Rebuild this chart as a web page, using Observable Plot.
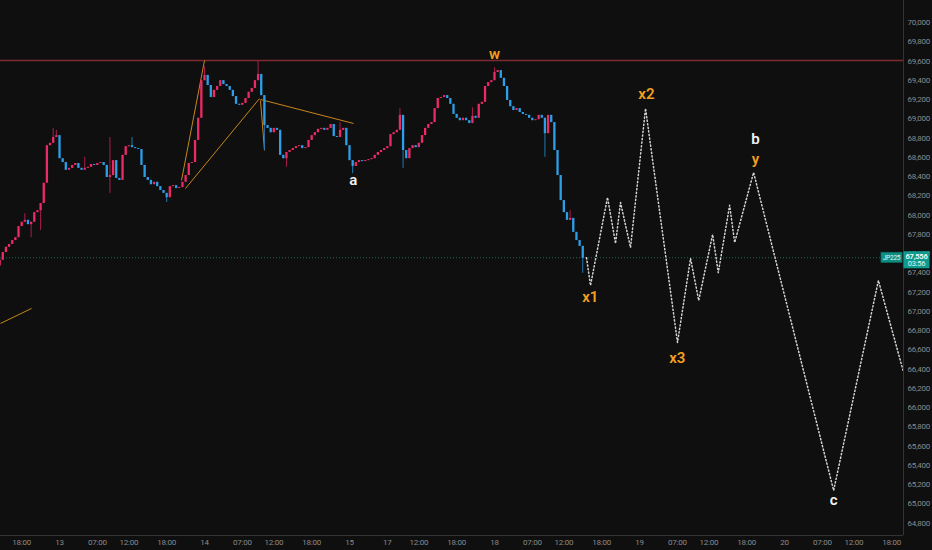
<!DOCTYPE html>
<html>
<head>
<meta charset="utf-8">
<script src="https://cdn.jsdelivr.net/npm/d3@7"></script>
<script src="https://cdn.jsdelivr.net/npm/@observablehq/plot@0.6"></script>
<style>
  html, body { margin: 0; padding: 0; background: #0f0f0f; }
  #chart svg { display: block; }
  #chart svg g[aria-label="y-axis tick label"] text,
  #chart svg g[aria-label="x-axis tick label"] text { letter-spacing: -0.25px; }
</style>
</head>
<body>
<div id="chart"></div>
<script>
// ---- DATA ----
// x unit: trading hours since day 13 00:00 (market closed one hour daily, weekend gap)
const xTickPos    = [-6, 0, 6, 11, 17, 23, 29, 34, 40, 46, 52, 57, 63, 69, 75, 80, 86, 92, 98, 103, 109, 115, 121, 126, 132];
const xTickLabels = ["18:00","13","07:00","12:00","18:00","14","07:00","12:00","18:00","15","17","12:00","18:00","18","07:00","12:00","18:00","19","07:00","12:00","18:00","20","07:00","12:00","18:00"];
const yTicks = d3.range(64800, 70001, 200);

// 30-minute candles of JP225, first bar starts at hour -9.5
const firstBarHour = -9.5;
const barHours = 0.5;
const firstOpen = 67470;
const closes = [
  67530, 67610, 67665, 67695, 67735, 67765, 67880, 67925, 67945, 67900,
  67925, 68025, 68045, 68120, 68330, 68720, 68745, 68805, 68825, 68585,
  68545, 68465, 68485, 68515, 68535, 68485, 68465, 68485, 68495, 68525,
  68515, 68535, 68545, 68515, 68390, 68410, 68565, 68380, 68360, 68620,
  68710, 68720, 68700, 68690, 68680, 68515, 68390, 68360, 68315, 68340,
  68295, 68255, 68225, 68180, 68295, 68305, 68275, 68285, 68340, 68410,
  68535, 68545, 68775, 69005, 69395, 69450, 69345, 69220, 69295, 69335,
  69395, 69355, 69335, 69295, 69230, 69150, 69140, 69160, 69210, 69275,
  69315, 69395, 69460, 69240, 68930, 68900, 68855, 68900, 68880, 68620,
  68585, 68650, 68670, 68690, 68710, 68720, 68690, 68700, 68775, 68825,
  68855, 68890, 68900, 68880, 68900, 68940, 68815, 68805, 68880, 68900,
  68720, 68565, 68505, 68545, 68565, 68555, 68565, 68575, 68585, 68620,
  68650, 68670, 68690, 68710, 68835, 68855, 68880, 69035, 68670, 68585,
  68690, 68720, 68700, 68745, 68825, 68900, 68940, 68960, 69105, 69210,
  69220, 69240, 69210, 69150, 69045, 69005, 68980, 69005, 68980, 68950,
  69025, 69005, 69150, 69170, 69335, 69375, 69395, 69480, 69500, 69420,
  69335, 69190, 69125, 69085, 69105, 69065, 69045, 69035, 69005, 68980,
  68990, 69035, 69005, 68845, 69035, 68960, 68670, 68410, 68150, 68025,
  67945, 67965, 67820, 67735, 67675, 67550, 67556
];
// long wicks (bar index, high, low)
const wickIndex = [8, 10, 13, 17, 18, 27, 35, 42, 53, 65, 82, 84, 91, 108, 112, 127, 128, 150, 157, 173, 181, 185];
const wickHigh  = [68015, null, null, 68900, 68880, 68600, 68805, 68805, null, 69540, 69605, null, null, 68960, null, 69105, null, 69115, 69530, null, 68045, null];
const wickLow   = [null, 67765, 67840, null, null, null, 68225, null, 68130, null, null, 68670, 68495, null, 68430, null, 68485, null, null, 68600, null, 67395];

const resistance = 69605;
const lastPrice = 67556;
const symbol = "JP225";
const countdown = "03:56";

// hand-drawn orange trend lines
const trendH1 = [19.35, 19.99, 31.88, 31.88, -9.36];
const trendP1 = [68359, 68276, 69200, 69190, 66874];
const trendH2 = [23.0, 31.73, 46.64, 32.52, -4.44];
const trendP2 = [69605, 69210, 68951, 68670, 67030];

// dotted projection path
const projH     = [83.6, 84.23, 86.93, 88.2, 88.99, 90.58, 92.96, 98.03, 100.1, 101.4, 103.6, 104.5, 106.3, 107.1, 110.1, 122.8, 129.9, 133.9];
const projPrice = [67556, 67269, 68183, 67705, 68130, 67663, 69107, 66677, 67549, 67113, 67798, 67402, 68101, 67715, 68442, 65140, 67320, 66365];

// wave labels
const labelText  = ["w", "a", "x1", "x2", "x3", "b", "y", "c"];
const labelH     = [69.0, 46.6, 84.2, 93.1, 98.0, 110.4, 110.4, 122.8];
const labelPrice = [69667, 68359, 67144, 69252, 66511, 68790, 68585, 65036];
const labelKind  = ["orange", "white", "orange", "orange", "orange", "white", "orange", "white"];

// ---- build tables ----
const candles = closes.map((c, i) => {
  const o = i === 0 ? firstOpen : closes[i - 1];
  let hi = Math.max(o, c), lo = Math.min(o, c);
  const k = wickIndex.indexOf(i);
  if (k >= 0) {
    if (wickHigh[k] != null) hi = Math.max(hi, wickHigh[k]);
    if (wickLow[k] != null) lo = Math.min(lo, wickLow[k]);
  }
  return {t: firstBarHour + barHours * i, open: o, close: c, high: hi, low: lo, up: c >= o};
});
const trends = trendH1.map((h, i) => ({x1: h, y1: trendP1[i], x2: trendH2[i], y2: trendP2[i]}));
const proj = projH.map((h, i) => ({x: h, y: projPrice[i]}));
const labels = labelText.map((t, i) => ({x: labelH[i], y: labelPrice[i], text: t, kind: labelKind[i]}));
const tickMap = new Map(xTickPos.map((p, i) => [p, xTickLabels[i]]));

const UP = "#ec2a66", DOWN = "#2c9fe8";
const UPW = "#a81d4c", DOWNW = "#2178b5";
const xDomain = [-9.36, 133.88];
const yDomain = [64672, 70228];
const axisFont = "Roboto, 'DejaVu Sans', sans-serif";

const plot = Plot.plot({
  width: 932,
  height: 550,
  marginLeft: 0,
  marginRight: 29,
  marginTop: 0,
  marginBottom: 15,
  x: {domain: xDomain, axis: null},
  y: {domain: yDomain, axis: null},
  style: {background: "#0f0f0f", color: "#8a8a8a"},
  marks: [
    Plot.ruleY([lastPrice], {stroke: "#1e6b5e", strokeWidth: 1, strokeDasharray: "1 2"}),
    Plot.ruleY([resistance], {stroke: "#7d2b31", strokeWidth: 1.5}),
    Plot.link(trends, {x1: "x1", y1: "y1", x2: "x2", y2: "y2", stroke: "#c8861c", strokeWidth: 1, clip: true}),
    Plot.ruleX(candles, {x: "t", y1: "low", y2: "high", stroke: d => d.up ? UPW : DOWNW, strokeWidth: 1}),
    Plot.ruleX(candles, {x: "t", y1: "open", y2: "close", stroke: d => d.up ? UP : DOWN, strokeWidth: 2.3}),
    Plot.line(proj, {x: "x", y: "y", stroke: "#d4d4d4", strokeWidth: 1.5, strokeDasharray: "1.2 2.4", clip: true}),
    Plot.text(labels, {x: "x", y: "y", text: "text", fill: d => d.kind === "orange" ? "#f2a01e" : "#f2f2f2",
      fontSize: 15, fontWeight: 600, fontFamily: "Roboto, sans-serif"}),
    Plot.ruleX([xDomain[1]], {stroke: "#333333", strokeWidth: 1}),
    Plot.ruleY([yDomain[0]], {stroke: "#333333", strokeWidth: 1}),
    Plot.axisY(yTicks, {anchor: "right", tickSize: 0, tickPadding: 4, tickFormat: d3.format(","),
      fill: "#8a8a8a", fontSize: 8, fontFamily: axisFont}),
    Plot.axisX(xTickPos, {anchor: "bottom", tickSize: 0, tickPadding: 4, tickFormat: d => tickMap.get(d),
      fill: "#8a8a8a", fontSize: 8, fontFamily: axisFont})
  ]
});

// last-price badge on the right axis
const svg = d3.select(plot);
const py = plot.scale("y").apply(lastPrice);
const px = plot.scale("x").apply(xDomain[1]);
const g = svg.append("g").attr("font-family", axisFont);
g.append("rect").attr("x", px - 22).attr("y", py - 5).attr("width", 21).attr("height", 10)
  .attr("fill", "#0e8f84").attr("stroke", "#0b6f66").attr("stroke-width", 0.8);
g.append("text").attr("x", px - 11.5).attr("y", py).attr("dy", "0.35em").attr("text-anchor", "middle")
  .attr("font-size", 6.5).attr("letter-spacing", "-0.2px").attr("fill", "#e8f6f4").text(symbol);
g.append("rect").attr("x", px + 0.5).attr("y", py - 6).attr("width", 26).attr("height", 17)
  .attr("fill", "#0e9a8e");
g.append("text").attr("x", px + 13.5).attr("y", py - 0.8).attr("dy", "0.35em").attr("text-anchor", "middle")
  .attr("font-size", 7.5).attr("font-weight", 600).attr("letter-spacing", "-0.2px").attr("fill", "#ffffff")
  .text(d3.format(",")(lastPrice));
g.append("text").attr("x", px + 13.5).attr("y", py + 6.5).attr("dy", "0.35em").attr("text-anchor", "middle")
  .attr("font-size", 7.5).attr("letter-spacing", "-0.2px").attr("fill", "#e6f4f2").text(countdown);

document.getElementById("chart").appendChild(plot);
</script>
</body>
</html>
